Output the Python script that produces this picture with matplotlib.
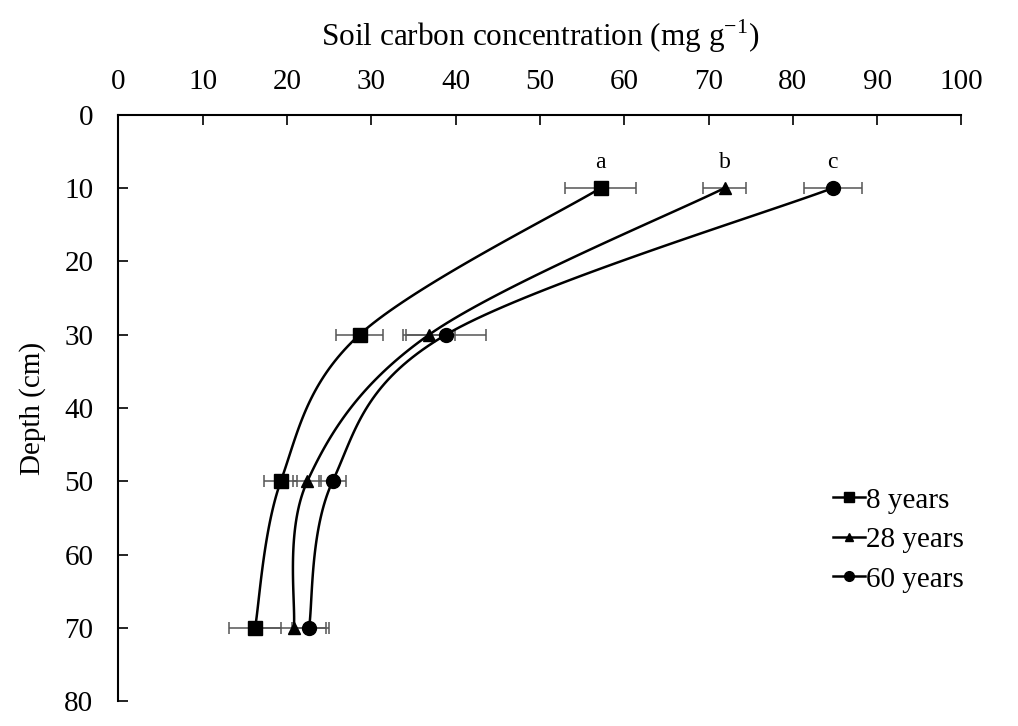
import numpy as np
import matplotlib
matplotlib.use("Agg")
import matplotlib.pyplot as plt

plt.rcParams['font.family'] = ['Liberation Serif', 'DejaVu Serif']
plt.rcParams['mathtext.fontset'] = 'custom'
plt.rcParams['mathtext.rm'] = 'Liberation Serif'

# data
depth = [10, 30, 50, 70]
series_names = ['8 years', '28 years', '60 years']
carbon_8 = [57.2, 28.6, 19.25, 16.2]
carbon_28 = [71.9, 36.85, 22.4, 20.8]
carbon_60 = [84.75, 38.85, 25.4, 22.6]
err_8 = [4.2, 2.8, 1.95, 3.05]
err_28 = [2.6, 3.1, 1.65, 4.2]
err_60 = [3.45, 4.7, 1.6, 2.0]
letters = ['a', 'b', 'c']
markers = ['s', '^', 'o']
msizes = [10, 9, 10]


def smooth(x, y, yscale=0.87, n=40):
    """Excel-like smoothed line through the points (bezier, catmull-rom)."""
    p = np.column_stack([np.asarray(x, float), np.asarray(y, float) * yscale])
    pts = np.vstack([p[0], p, p[-1]])
    out = []
    t = np.linspace(0, 1, n)[:, None]
    for i in range(1, len(pts) - 2):
        p0, p1, p2, p3 = pts[i - 1], pts[i], pts[i + 1], pts[i + 2]
        c1 = p1 + (p2 - p0) / 6
        c2 = p2 - (p3 - p1) / 6
        seg = ((1 - t) ** 3) * p1 + 3 * ((1 - t) ** 2) * t * c1 + 3 * (1 - t) * t ** 2 * c2 + t ** 3 * p2
        out.append(seg)
    out = np.vstack(out)
    return out[:, 0], out[:, 1] / yscale


fig = plt.figure(figsize=(10.18, 7.26), dpi=100)
ax = fig.add_axes([0.1164, 0.034, 0.828, 0.808])

all_x = [carbon_8, carbon_28, carbon_60]
all_err = [err_8, err_28, err_60]
for name, xs, es, mk, ms in zip(series_names, all_x, all_err, markers, msizes):
    sx, sy = smooth(xs, depth)
    ax.plot(sx, sy, color='black', lw=1.8, zorder=3)
    ax.errorbar(xs, depth, xerr=es, fmt='none', ecolor='#555555', elinewidth=1.1,
                capsize=4, capthick=1.1, zorder=2)
    ax.plot(xs, depth, linestyle='none', marker=mk, markersize=ms, color='black', zorder=4)
    # legend proxy
    ax.plot([], [], color='black', lw=1.8, marker=mk, markersize=ms * 0.7, label=name)

for lab, xs in zip(letters, all_x):
    ax.text(xs[0], depth[0] - 2.0, lab, ha='center', va='bottom', fontsize=17)

ax.set_xlim(0, 100)
ax.set_ylim(80, 0)
ax.set_xticks(np.arange(0, 101, 10))
ax.set_yticks(np.arange(0, 81, 10))
ax.xaxis.tick_top()
ax.xaxis.set_label_position('top')
ax.tick_params(axis='both', direction='in', length=7, width=1.2, labelsize=21)
ax.tick_params(axis='x', pad=14)
ax.tick_params(axis='y', pad=18)
for s in ['right', 'bottom']:
    ax.spines[s].set_visible(False)
for s in ['left', 'top']:
    ax.spines[s].set_linewidth(1.5)

ax.set_xlabel(r'Soil carbon concentration (mg g$^{\mathregular{-1}}$)', fontsize=22.5, labelpad=17)
ax.set_ylabel('Depth (cm)', fontsize=21, labelpad=13)

ax.legend(loc='upper left', bbox_to_anchor=(0.83, 0.39), frameon=False, fontsize=21,
          handlelength=1.1, handletextpad=0.05, labelspacing=0.45, borderpad=0)

fig.savefig('out.png', dpi=100)
